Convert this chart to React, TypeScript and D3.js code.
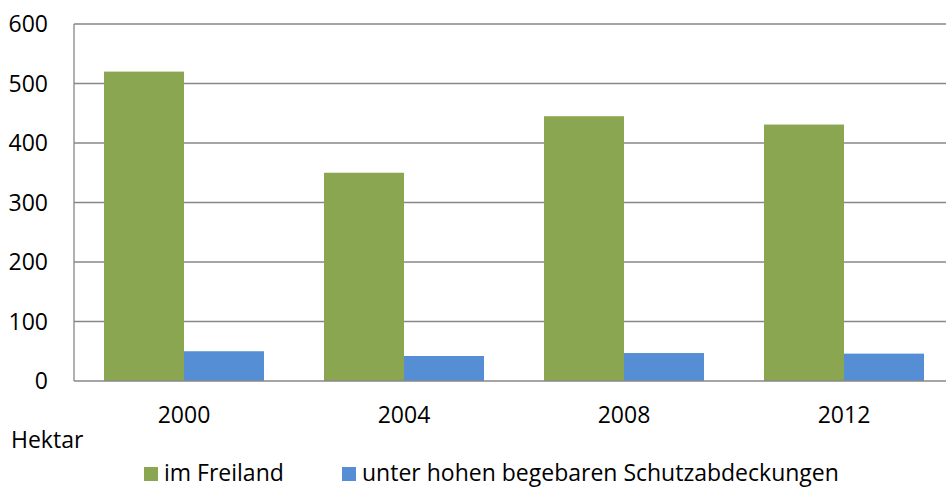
import React from "react";
import * as d3 from "d3";

const categories = ["2000", "2004", "2008", "2012"];
const seriesNames = ["im Freiland", "unter hohen begebaren Schutzabdeckungen"];
const freiland = [520, 350, 445, 431];
const schutz = [50, 42, 47, 46];
const yTicks = [0, 100, 200, 300, 400, 500, 600];
const colors = ["#8BA650", "#558ED5"];

const W = 946;
const H = 487;
const left = 74;
const right = 954;
const top = 24;
const bottom = 381;
const font = "'Open Sans', sans-serif";
const fs = 23;

export default function App() {
  const values = [freiland, schutz];
  const x0 = d3.scaleBand<string>().domain(categories).range([left, right]).padding(0);
  const step = x0.step();
  const gap = step - 160;
  const x1 = d3
    .scaleBand<string>()
    .domain(seriesNames)
    .range([gap / 2, step - gap / 2])
    .padding(0);
  const y = d3.scaleLinear().domain([0, 600]).range([bottom, top]);

  return (
    <svg width={W} height={H} style={{ position: "absolute", left: 0, top: 0 }}>
      <rect width={W} height={H} fill="#fff" />
      {yTicks.map((t) => (
        <g key={t}>
          {t > 0 && (
            <line x1={left} x2={right} y1={y(t)} y2={y(t)} stroke="#878787" strokeWidth={1.3} />
          )}
          <text
            x={48}
            y={y(t)}
            dy="0.36em"
            textAnchor="end"
            fontFamily={font}
            fontSize={fs}
            fill="#000"
          >
            {t}
          </text>
        </g>
      ))}
      {categories.map((c, i) => (
        <g key={c} transform={`translate(${x0(c)},0)`}>
          {seriesNames.map((s, j) => (
            <rect
              key={s}
              x={x1(s)}
              width={x1.bandwidth()}
              y={y(values[j][i])}
              height={bottom - y(values[j][i])}
              fill={colors[j]}
            />
          ))}
          <text
            x={step / 2}
            y={423}
            textAnchor="middle"
            fontFamily={font}
            fontSize={fs}
            fill="#000"
          >
            {c}
          </text>
        </g>
      ))}
      <line x1={left} x2={left} y1={top} y2={bottom} stroke="#878787" strokeWidth={1.3} />
      <line x1={left} x2={right} y1={bottom} y2={bottom} stroke="#878787" strokeWidth={1.5} />
      <text x={11} y={448} fontFamily={font} fontSize={fs} fill="#000">
        Hektar
      </text>
      {seriesNames.map((s, j) => {
        const lx = j === 0 ? 144 : 342;
        return (
          <g key={s}>
            <rect x={lx} y={467} width={14} height={14} fill={colors[j]} />
            <text x={lx + 20} y={481} fontFamily={font} fontSize={fs} fill="#000">
              {s}
            </text>
          </g>
        );
      })}
    </svg>
  );
}
